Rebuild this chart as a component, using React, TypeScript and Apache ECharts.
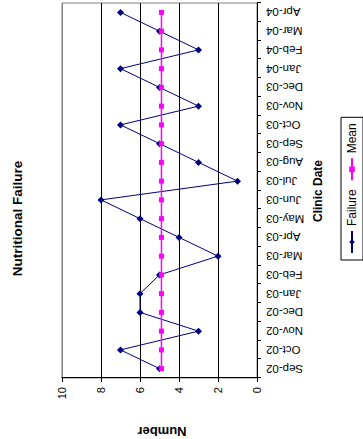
import React, { useEffect, useRef } from "react";
import * as echarts from "echarts";

const categories = [
  "Sep-02", "Oct-02", "Nov-02", "Dec-02", "Jan-03", "Feb-03", "Mar-03",
  "Apr-03", "May-03", "Jun-03", "Jul-03", "Aug-03", "Sep-03", "Oct-03",
  "Nov-03", "Dec-03", "Jan-04", "Feb-04", "Mar-04", "Apr-04",
];
const failure = [5, 7, 3, 6, 6, 5, 2, 4, 6, 8, 1, 3, 5, 7, 3, 5, 7, 3, 5, 7];
const mean = [
  4.9, 4.9, 4.9, 4.9, 4.9, 4.9, 4.9, 4.9, 4.9, 4.9,
  4.9, 4.9, 4.9, 4.9, 4.9, 4.9, 4.9, 4.9, 4.9, 4.9,
];
const seriesNames = ["Failure", "Mean"];
const titleText = "Nutritional Failure";
const xTitle = "Clinic Date";
const yTitle = "Number";
const yMin = 0;
const yMax = 10;
const yStep = 2;

const FONT = '"Liberation Sans", Arial, Helvetica, sans-serif';

export default function App() {
  const ref = useRef<HTMLDivElement>(null);

  useEffect(() => {
    if (!ref.current) return;
    const chart = echarts.init(ref.current, null, {
      renderer: "svg",
      width: 439,
      height: 363,
    });
    chart.setOption({
      animation: false,
      backgroundColor: "#ffffff",
      textStyle: { fontFamily: FONT },
      grid: {
        left: 61,
        right: 3,
        top: 62,
        bottom: 106,
        show: true,
        borderColor: "#808080",
        borderWidth: 1,
        backgroundColor: "transparent",
      },
      xAxis: {
        type: "category",
        data: categories,
        boundaryGap: true,
        axisLine: { show: true, lineStyle: { color: "#000", width: 1 } },
        axisTick: {
          show: true,
          length: 4,
          interval: 0,
          alignWithLabel: false,
          lineStyle: { color: "#000" },
        },
        axisLabel: {
          rotate: 90,
          interval: 0,
          margin: 9,
          fontSize: 11.5,
          color: "#000",
          fontFamily: FONT,
        },
        splitLine: { show: false },
      },
      yAxis: {
        type: "value",
        min: yMin,
        max: yMax,
        interval: yStep,
        axisLine: { show: true, lineStyle: { color: "#000", width: 1 } },
        axisTick: { show: true, length: 4, lineStyle: { color: "#000" } },
        axisLabel: { margin: 9, fontSize: 11, color: "#000", fontFamily: FONT },
        splitLine: {
          show: true,
          lineStyle: {
            color: ["#000", "#000", "#000", "#000", "#000", "#808080"],
            width: 1,
          },
        },
      },
      legend: {
        data: seriesNames,
        left: 179,
        top: 341,
        orient: "horizontal",
        borderColor: "#000",
        borderWidth: 1,
        borderRadius: 0,
        padding: [5, 6],
        itemGap: 8,
        itemWidth: 22,
        itemHeight: 7,
        textStyle: { fontSize: 12, color: "#000", fontFamily: FONT },
      },
      series: [
        {
          name: seriesNames[0],
          type: "line",
          data: failure,
          color: "#000080",
          symbol: "diamond",
          symbolSize: 7,
          lineStyle: { width: 1, color: "#000080" },
          itemStyle: { color: "#000080" },
          z: 2,
        },
        {
          name: seriesNames[1],
          type: "line",
          data: mean,
          color: "#FF00FF",
          symbol: "rect",
          symbolSize: 5,
          lineStyle: { width: 1.5, color: "#FF00FF" },
          itemStyle: { color: "#FF00FF" },
          z: 3,
        },
      ],
      graphic: [
        {
          type: "text",
          x: 220.5,
          y: 17.5,
          style: {
            text: titleText,
            font: `bold 13.5px ${FONT}`,
            textAlign: "center",
            textVerticalAlign: "middle",
            align: "center",
            verticalAlign: "middle",
            fill: "#000",
          },
        },
        {
          type: "text",
          x: 7.5,
          y: 162,
          rotation: Math.PI / 2,
          style: {
            text: yTitle,
            font: `bold 13px ${FONT}`,
            textAlign: "center",
            textVerticalAlign: "middle",
            align: "center",
            verticalAlign: "middle",
            fill: "#000",
          },
        },
        {
          type: "text",
          x: 248,
          y: 318,
          style: {
            text: xTitle,
            font: `bold 12px ${FONT}`,
            textAlign: "center",
            textVerticalAlign: "middle",
            align: "center",
            verticalAlign: "middle",
            fill: "#000",
          },
        },
      ],
    });
    return () => chart.dispose();
  }, []);

  return (
    <div
      style={{
        position: "fixed",
        left: 0,
        top: 0,
        width: 363,
        height: 439,
        overflow: "hidden",
        background: "#fff",
      }}
    >
      <div
        ref={ref}
        style={{
          position: "absolute",
          left: 0,
          top: 0,
          width: 439,
          height: 363,
          transformOrigin: "0 0",
          transform: "translate(0px, 439px) rotate(-90deg)",
        }}
      />
    </div>
  );
}
